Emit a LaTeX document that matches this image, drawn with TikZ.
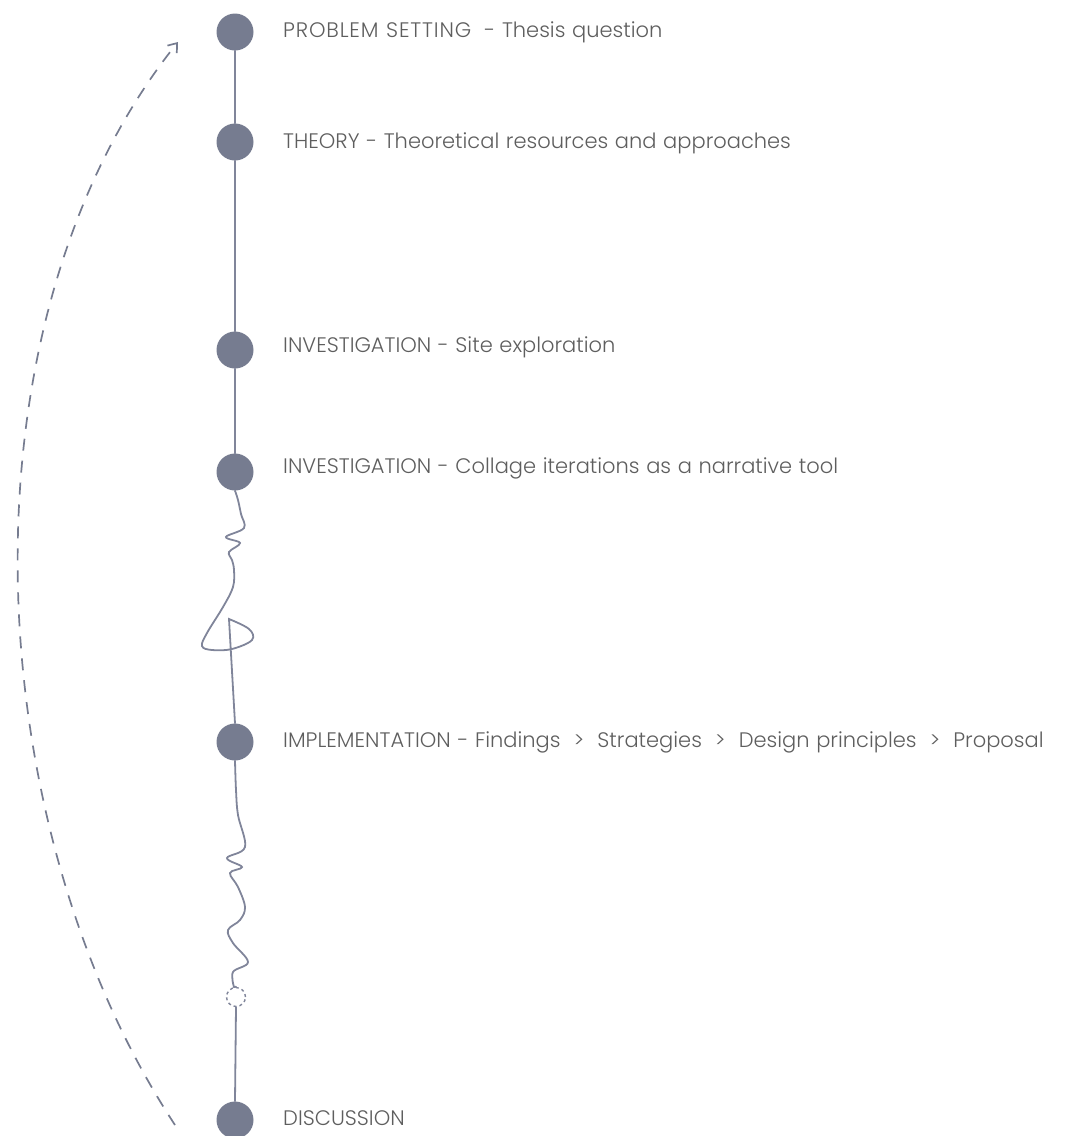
\documentclass[tikz,border=0pt]{standalone}
\usepackage{fontspec}
\setmainfont{Poppins Light}[WordSpace=1.15]
\newfontfamily\capsw{Poppins Light}[LetterSpace=4,WordSpace=1.15]
\usetikzlibrary{arrows.meta}
\definecolor{dotc}{HTML}{767C90}
\definecolor{linec}{HTML}{80859A}
\definecolor{txtc}{HTML}{5E5E5E}
\begin{document}
\begin{tikzpicture}[x=1pt,y=-1pt,
  dot/.style={circle,fill=dotc,minimum size=37pt,inner sep=0pt},
  lbl/.style={anchor=base west,inner sep=0pt,text=txtc,font=\fontsize{21}{24}\selectfont},
  conn/.style={draw=linec,line width=1.8pt,line cap=round},
  back/.style={draw=dotc,line width=1.7pt,dash pattern=on 12pt off 10pt,-{Straight Barb[length=8pt,width=12pt]}}]
\useasboundingbox (0,0) rectangle (1074,1136);
\node[dot] (n1) at (235,32) {};
\node[dot] (n2) at (235,142) {};
\node[dot] (n3) at (235,350) {};
\node[dot] (n4) at (235,472) {};
\node[dot] (n5) at (235,742) {};
\node[dot] (n6) at (235,1120) {};
\node[circle,draw=linec,dashed,line width=1.4pt,minimum size=19pt,inner sep=0pt] (d) at (236,997) {};
\node[lbl] (t1) at (283,37) {{\capsw PROBLEM SETTING}\ \ - Thesis question};
\node[lbl] (t2) at (283,148) {THEORY - Theoretical resources and approaches};
\node[lbl] (t3) at (283,352) {INVESTIGATION - Site exploration};
\node[lbl] (t4) at (283,473) {INVESTIGATION - Collage iterations as a narrative tool};
\node[lbl] (t5) at (283,747) {IMPLEMENTATION - Findings\ \ >\ \ Strategies\ \ >\ \ Design principles\ \ >\ \ Proposal};
\node[lbl] (t6) at (283,1125) {DISCUSSION};
\draw[conn] (n1) -- (n2);
\draw[conn] (n2) -- (n3);
\draw[conn] (n3) -- (n4);
\draw[conn] plot[smooth,tension=0.6] coordinates {(n4.south) (238,500) (241,514) (244,528) (226,537) (240,543) (229,552) (232,560) (234,570) (233,587) (223,607) (207,633) (202,646) (212,650) (232,649) (252,640) (249,629) (229,619)} -- (n5.north);
\draw[conn] plot[smooth,tension=0.6] coordinates {(n5.south) (236,790) (238,815) (245,847) (227,858) (242,867) (230,873) (238,887) (245,907) (240,920) (228,930) (233,943) (248,962) (233,972) (234,987)} -- (d.north);
\draw[conn] (d.south) -- (n6.north);
\coordinate (bs) at (175,1125);
\coordinate (be) at (178,42);
\draw[back] (bs) .. controls (-25,820) and (-45,320) .. (be);
\end{tikzpicture}
\end{document}
